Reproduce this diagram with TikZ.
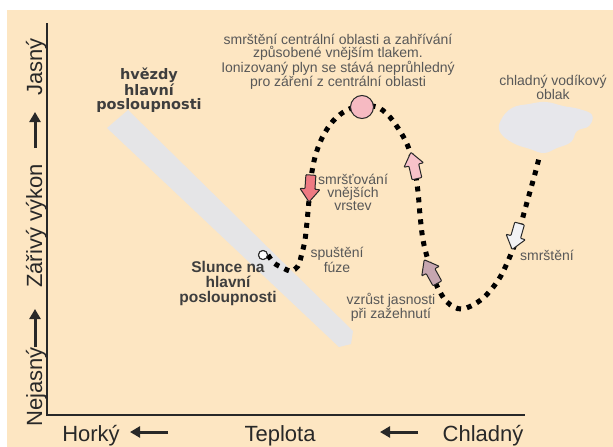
\documentclass[tikz,border=0pt]{standalone}
\usepackage{fontspec}
\setmainfont{Liberation Sans}
\newfontfamily\widesans{DejaVu Sans}
\usetikzlibrary{arrows.meta}

\definecolor{paper}{RGB}{253,230,194}
\definecolor{bandgray}{RGB}{229,229,231}
\definecolor{ink}{RGB}{40,40,40}
\definecolor{notegray}{RGB}{88,88,88}
\definecolor{labelgray}{RGB}{62,62,62}
\definecolor{cloudgray}{RGB}{231,231,235}
\definecolor{redfill}{RGB}{238,122,130}
\definecolor{pinkfill}{RGB}{248,194,202}
\definecolor{mauvefill}{RGB}{198,166,176}
\definecolor{palefill}{RGB}{242,242,244}
\definecolor{peakfill}{RGB}{246,186,194}

\tikzset{
  note/.style={font=\fontsize{14}{13}\selectfont, text=notegray, align=center, inner sep=0pt},
  groupname/.style={font=\widesans\bfseries\fontsize{14.5}{14}\selectfont, text=labelgray, align=center, inner sep=0pt},
  sunname/.style={font=\bfseries\fontsize{15.5}{15}\selectfont, text=labelgray, align=center, inner sep=0pt},
  axislabel/.style={font=\fontsize{22}{24}\selectfont, text=ink, inner sep=0pt, anchor=base},
  axisline/.style={draw=ink, line width=2pt},
  axisarrow/.style={draw=ink, line width=3pt, -{Triangle[length=10pt,width=11pt]}},
  track/.style={draw=black, line width=5pt, dash pattern=on 5pt off 6pt},
  marker/.style={circle, draw=ink, line width=1pt, inner sep=0pt},
  arrowline/.style={draw=ink, line width=1pt, line join=round, rounded corners=0.8pt},
  blockarrow/.pic={
    \path[arrowline, pic actions]
      (-5,-13) -- (5,-13) -- (5,1) -- (10,1) -- (0,14) -- (-10,1) -- (-5,1) -- cycle;
  }
}

\begin{document}
\begin{tikzpicture}[x=1pt,y=-1pt]
\useasboundingbox (0,0) rectangle (613,447);
\fill[white] (0,0) rectangle (613,447);
\fill[paper] (7,10) rectangle (613,447);

% main sequence band
\fill[bandgray] (107,128) -- (128,110) -- (353,331) -- (351,344) -- (339,347) -- cycle;

% axes
\coordinate (ytop) at (47,23);
\coordinate (origin) at (47,415);
\coordinate (xend) at (525,415);
\draw[axisline] (ytop) -- (origin) -- (xend);

% axis labels
\node[axislabel] (hot) at (91,441) {Horký};
\node[axislabel] (temp) at (280,441) {Teplota};
\node[axislabel] (cold) at (483,441) {Chladný};
\coordinate (ha1) at (168,432); \coordinate (ha2) at (130,432);
\coordinate (hb1) at (418,432); \coordinate (hb2) at (380,432);
\draw[axisarrow] (ha1) -- (ha2);
\draw[axisarrow] (hb1) -- (hb2);

\node[axislabel, rotate=90] (bright) at (42,67) {Jasný};
\node[axislabel, rotate=90] (lum) at (42,226) {Zářivý výkon};
\node[axislabel, rotate=90] (dim) at (42,387) {Nejasný};
\coordinate (va1) at (35,148); \coordinate (va2) at (35,112);
\coordinate (vb1) at (35,347); \coordinate (vb2) at (35,309);
\draw[axisarrow] (va1) -- (va2);
\draw[axisarrow] (vb1) -- (vb2);

% cold hydrogen cloud
\fill[cloudgray] plot[smooth cycle, tension=0.7] coordinates {
  (501,120) (512,108) (529,104) (546,102) (563,106) (579,109) (592,115)
  (589,126) (577,131) (571,142) (557,148) (544,153) (530,149) (513,143) (500,132)};
\coordinate (cloud) at (540,154);

% evolutionary track
\node[marker, fill=white, minimum size=9pt] (sun) at (263,255) {};
\draw[track] plot[smooth, tension=0.55] coordinates {
  (sun.east) (274,263) (283,268) (291,271) (298,266) (302,253) (305,240)
  (307,222) (309,200) (311,178) (315,157) (322,138) (333,121) (347,110) (362,106)
  (377,107) (388,115) (398,128) (407,144) (414,165) (418,192) (420,215)
  (423,240) (428,260) (436,284) (447,302) (462,309) (482,299) (499,279)
  (511,254) (518,235) (524,213) (531,188) (536,170) (cloud)};
\node[marker, fill=white, minimum size=9pt] at (sun) {};
\node[marker, fill=peakfill, minimum size=23pt] (peak) at (362,107) {};

% direction arrows
\pic[fill=redfill, rotate=-4] (downarrow) at (310,188) {blockarrow};
\pic[fill=pinkfill, rotate=193] (uparrow) at (414,166) {blockarrow};
\pic[fill=mauvefill, rotate=209] (ignitearrow) at (431,272) {blockarrow};
\pic[fill=palefill, rotate=-16] (collapsearrow) at (516,236) {blockarrow};

% annotations
\node[note] (core) at (338,62) {smrštění centrální oblasti a zahřívání\\způsobené vnějším tlakem.\\Ionizovaný plyn se stává neprůhledný\\pro záření z centrální oblasti};
\node[note] (cloudtxt) at (553,87) {chladný vodíkový\\oblak};
\node[groupname] (ms) at (149,90) {hvězdy\\hlavní\\posloupnosti};
\node[sunname] (sunlabel) at (228,283) {Slunce na\\hlavní\\posloupnosti};
\node[note] (shrink) at (353,192) {smršťování\\vnějších\\vrstev};
\node[note] (fusion) at (337,260) {spuštění\\fúze};
\node[note] (ignite) at (391,307) {vzrůst jasnosti\\při zažehnutí};
\node[note, anchor=base] (collapse) at (547,260) {smrštění};
\end{tikzpicture}
\end{document}
